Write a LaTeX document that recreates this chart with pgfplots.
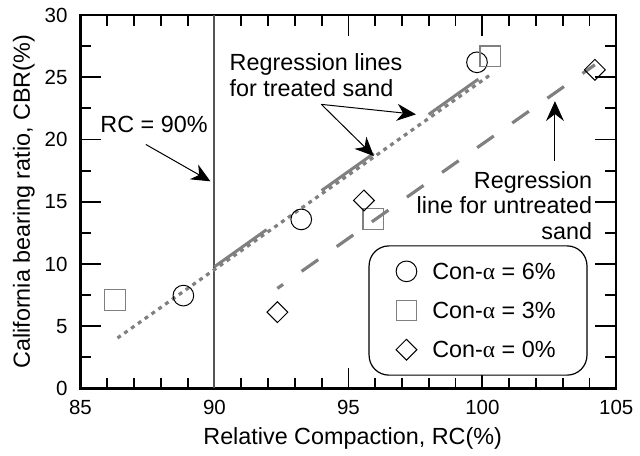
\documentclass[border=0pt]{standalone}
\usepackage{fontspec}
\setmainfont{Liberation Sans}
\newfontfamily\gr{Liberation Serif}
\usepackage{pgfplots}
\pgfplotsset{compat=1.18}
\usetikzlibrary{arrows.meta}
\definecolor{lg}{gray}{0.5}
\definecolor{vl}{gray}{0.33}
\newcommand\lab{\fontsize{11.75}{14}\selectfont}
\begin{document}
\begin{tikzpicture}
\begin{axis}[
 scale only axis, width=269.5pt, height=187.85pt,
 xmin=85, xmax=105, ymin=0, ymax=30,
 xtick={85,90,...,105}, ytick={0,5,...,30},
 minor x tick num=4, minor y tick num=1,
 tick align=inside,
 major tick length=10.5pt, minor tick length=5.5pt,
 tick style={black, line width=0.9pt},
 axis line style={line width=1.1pt},
 /pgf/number format/assume math mode=true,
 tick label style={font=\fontsize{10.3}{12}\selectfont},
 xticklabel style={yshift=-2.2pt},
 yticklabel style={xshift=-3pt},
 label style={font=\lab},
 xlabel={Relative Compaction, RC(\%)},
 ylabel={California bearing ratio, CBR(\%)},
 xlabel style={at={(axis description cs:0.508,-0.149)}, anchor=base},
 ylabel style={at={(axis description cs:-0.0943,0.5)}, anchor=base},
 clip=false,
 legend cell align=left,
 legend style={at={(axis cs:95.75,11.5)}, anchor=north west, draw=black, line width=0.6pt,
   rounded corners=10pt, fill=white, inner xsep=5.8pt, inner ysep=6.8pt, row sep=7.7pt,
   nodes={inner sep=0pt, text depth=0pt}, font=\lab,
   /tikz/every even column/.append style={column sep=2pt}},
 legend image code/.code={\path[draw=none, fill=none, sharp corners] (0pt,-6pt) rectangle (26pt,6pt); \draw[sharp corners,#1] plot coordinates {(13pt,0pt)};},
]
% bounding region of the picture
\path (axis cs:81.995,-5.216) rectangle (axis cs:105.742,31.206);
% RC = 90% line
\addplot[vl, line width=1pt, forget plot] coordinates {(90,0) (90,30)};
% regression lines for treated sand
\addplot[lg, line width=1.6pt, dash pattern=on 2pt off 2.2pt, forget plot] coordinates {(86.38,4.05) (100.3,25.2)};
\addplot[lg, line width=1.5pt, dash pattern=on 32.2pt off 33.9pt, forget plot] coordinates {(90,9.78) (99.85,24.85)};
% regression line for untreated sand
\addplot[lg, line width=1.6pt, dash pattern=on 10.2pt off 11.4pt, dash phase=6.7pt, forget plot] coordinates {(92.35,8.04) (104.2,26.0)};
% data
\addplot[only marks, mark=o, mark size=5.2pt, black, line width=0.5pt] coordinates {(88.84,7.46) (93.24,13.58) (99.8,26.2)};
\addlegendentry{Con-{\gr α} = 6\%\hspace*{10pt}}
\addplot[only marks, mark=square, mark size=5.2pt, lg, line width=0.6pt] coordinates {(86.28,7.11) (95.93,13.6) (100.3,26.68)};
\addlegendentry{Con-{\gr α} = 3\%}
\addplot[only marks, mark=square, mark size=3.7pt, mark options={rotate=45}, black, line width=0.5pt] coordinates {(92.35,6.13) (95.58,15.1) (104.2,25.6)};
\addlegendentry{Con-{\gr α} = 0\%}
% annotations
\node[anchor=base west, inner sep=0pt, font=\lab] at (axis cs:85.73,20.56) {RC = 90\%};
\draw[line width=0.5pt, -{Stealth[length=9.5pt, width=8.5pt, inset=3pt]}] (axis cs:87.44,19.60) -- (axis cs:89.85,16.64);
\node[anchor=base west, inner sep=0pt, font=\lab] at (axis cs:90.555,25.54) {Regression lines};
\node[anchor=base west, inner sep=0pt, font=\lab] at (axis cs:90.555,23.44) {for treated sand};
\draw[line width=0.5pt, -{Stealth[length=9.5pt, width=8.5pt, inset=3pt]}] (axis cs:93.99,22.82) -- (axis cs:97.52,22.02);
\draw[line width=0.5pt, -{Stealth[length=9.5pt, width=8.5pt, inset=3pt]}] (axis cs:93.99,22.82) -- (axis cs:95.95,18.67);
\node[anchor=base east, inner sep=0pt, font=\lab] at (axis cs:104.11,16.09) {Regression};
\node[anchor=base east, inner sep=0pt, font=\lab] at (axis cs:104.11,14.03) {line for untreated};
\node[anchor=base east, inner sep=0pt, font=\lab] at (axis cs:104.11,11.96) {sand};
\draw[line width=0.5pt, -{Stealth[length=10pt, width=9pt, inset=3.5pt]}] (axis cs:102.71,18.29) -- (axis cs:102.71,23.08);
\end{axis}
\end{tikzpicture}
\end{document}
